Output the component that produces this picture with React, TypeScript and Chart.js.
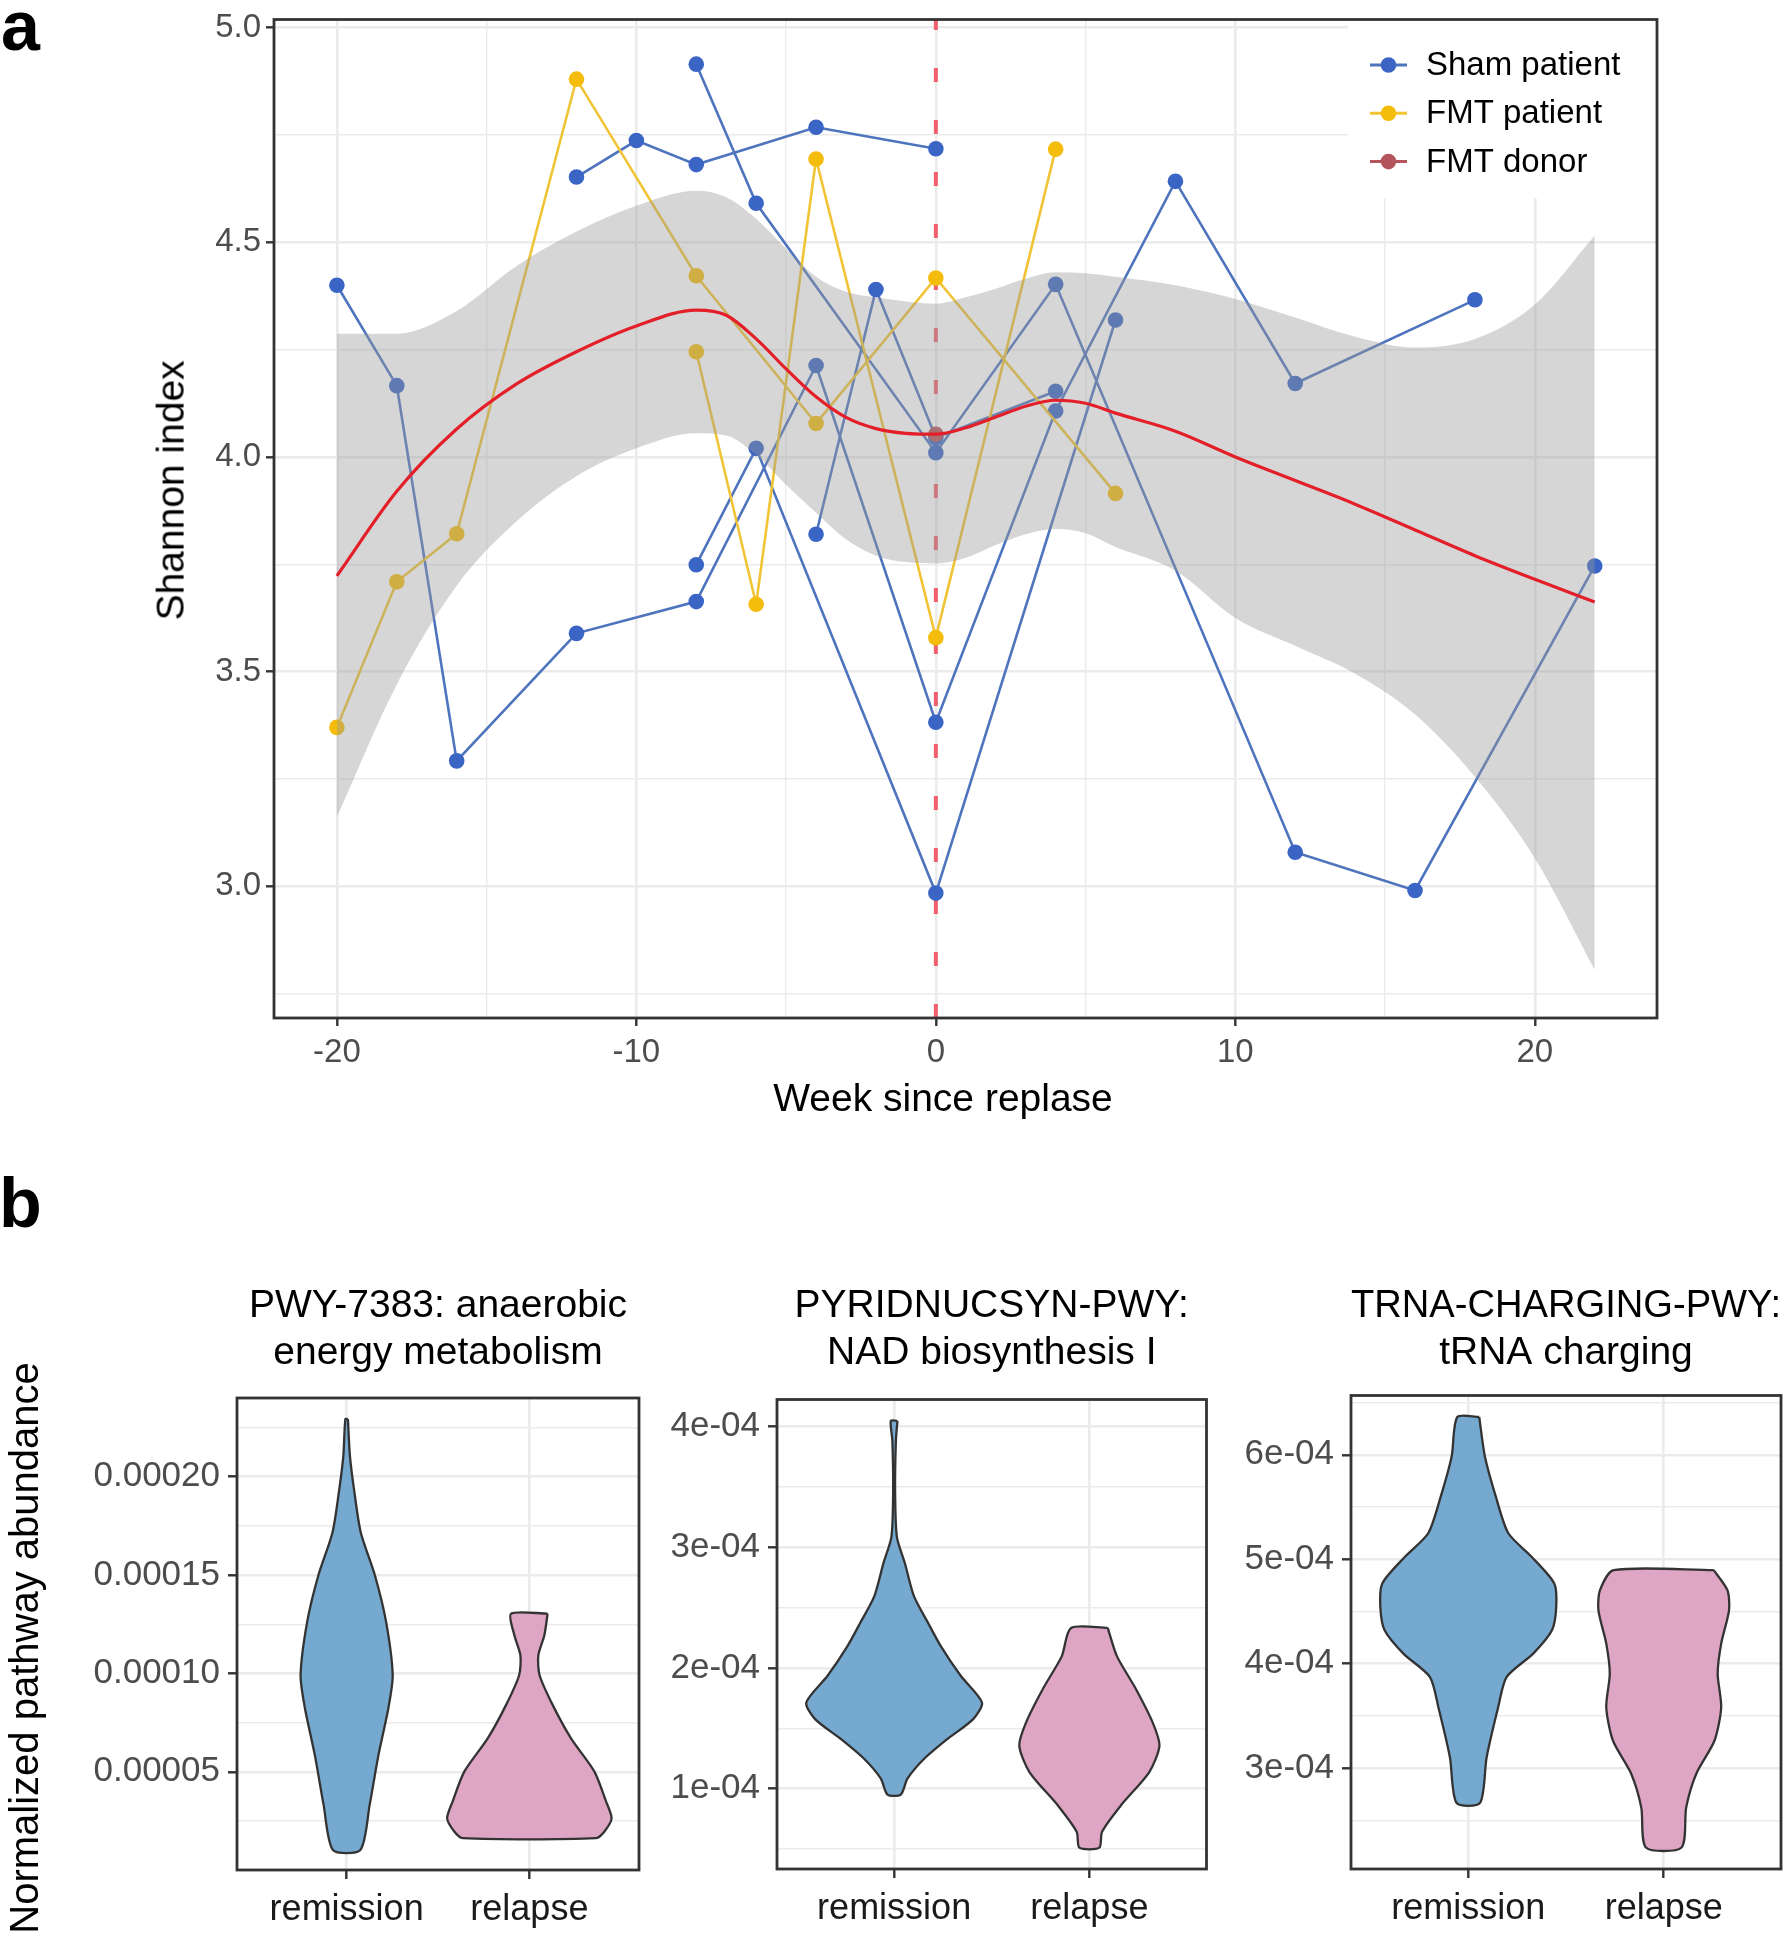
import React, { useEffect, useRef } from 'react';
import { Chart, registerables } from 'chart.js';

Chart.register(...registerables);

const FONT = "'Liberation Sans', Arial, Helvetica, sans-serif";
Chart.defaults.font.family = FONT;

// ---------------- Panel a : Shannon index over time ----------------
const A_X_MAJOR = [-20, -10, 0, 10, 20];
const A_X_MINOR = [-15, -5, 5, 15];
const A_Y_MAJOR = [3.0, 3.5, 4.0, 4.5, 5.0];
const A_Y_MINOR = [2.75, 3.25, 3.75, 4.25, 4.75];
const A_X_RANGE = [-22.1, 24.08];
const A_Y_RANGE = [2.693, 5.019];
const RELAPSE_WEEK = 0;
const A_X_TITLE = 'Week since replase';
const A_Y_TITLE = 'Shannon index';

const SHAM_1_WEEK = [-20, -18, -16, -12, -8, -4, 0, 4, 8, 12, 18];
const SHAM_1_SHANNON = [4.40, 4.166, 3.292, 3.589, 3.663, 4.213, 3.382, 4.107, 4.642, 4.171, 4.366];
const SHAM_2_WEEK = [-8, -6, 0, 4, 12, 16, 22];
const SHAM_2_SHANNON = [4.915, 4.591, 4.010, 4.402, 3.079, 2.990, 3.746];
const SHAM_3_WEEK = [-12, -10, -8, -4, 0];
const SHAM_3_SHANNON = [4.652, 4.737, 4.681, 4.768, 4.718];
const SHAM_4_WEEK = [-8, -6, 0, 6];
const SHAM_4_SHANNON = [3.749, 4.020, 2.984, 4.319];
const SHAM_5_WEEK = [-4, -2, 0, 4];
const SHAM_5_SHANNON = [3.820, 4.390, 4.045, 4.153];

const FMT_1_WEEK = [-20, -18, -16, -12, -8, -4, 0, 6];
const FMT_1_SHANNON = [3.370, 3.709, 3.821, 4.880, 4.422, 4.078, 4.417, 3.915];
const FMT_2_WEEK = [-8, -6, -4, 0, 4];
const FMT_2_SHANNON = [4.245, 3.657, 4.694, 3.579, 4.717];

const DONOR_WEEK = [0];
const DONOR_SHANNON = [4.053];

const SMOOTH_WEEK = [-20, -18, -16, -14, -12, -10, -8, -7, -6, -5, -4, -3, -2, -1, 0, 1, 2, 3, 4, 5, 6, 8, 10, 12, 14, 16, 18, 20, 22];
const SMOOTH_FIT = [3.723, 3.92, 4.065, 4.17, 4.245, 4.305, 4.342, 4.33, 4.275, 4.205, 4.140, 4.092, 4.066, 4.055, 4.053, 4.068, 4.093, 4.118, 4.132, 4.125, 4.102, 4.060, 4.000, 3.945, 3.890, 3.830, 3.770, 3.715, 3.662];
const SMOOTH_UPPER = [4.287, 4.287, 4.34, 4.445, 4.525, 4.585, 4.620, 4.605, 4.555, 4.485, 4.420, 4.385, 4.372, 4.362, 4.357, 4.372, 4.392, 4.415, 4.430, 4.428, 4.420, 4.400, 4.368, 4.325, 4.280, 4.255, 4.275, 4.355, 4.516];
const SMOOTH_LOWER = [3.161, 3.47, 3.70, 3.85, 3.955, 4.020, 4.055, 4.050, 4.005, 3.935, 3.870, 3.808, 3.770, 3.755, 3.752, 3.765, 3.795, 3.820, 3.832, 3.822, 3.790, 3.735, 3.625, 3.560, 3.495, 3.400, 3.255, 3.065, 2.805];

const LEGEND_LABELS = ['Sham patient', 'FMT patient', 'FMT donor'];

const SHAM_LINE = '#4F74BE';
const SHAM_POINT = '#3A65C5';
const FMT_LINE = '#F1C435';
const FMT_POINT = '#F4BC0B';
const DONOR_COLOR = '#B4545B';
const LEGEND_COLORS = [[SHAM_LINE, SHAM_POINT], [FMT_LINE, FMT_POINT], [DONOR_COLOR, DONOR_COLOR]];
const POINT_RADIUS = 7.8;

// ---------------- Panel b : violins (values in units of 1e-5) ----------------
const ABUNDANCE_UNIT = 1e-5;
const B_Y_TITLE = 'Normalized pathway abundance';
const GROUPS = ['remission', 'relapse'];
const GROUP_COLORS = ['#75A9CF', '#DEA6C4'];

const V1_TITLE = ['PWY-7383: anaerobic', 'energy metabolism'];
const V1_REM_LEVEL = [22.93, 21.06, 19.38, 17.18, 14.98, 12.62, 9.91, 8.22, 5.85, 3.32, 1.03];
const V1_REM_HALFWIDTH = [0.007, 0.018, 0.040, 0.077, 0.155, 0.216, 0.252, 0.228, 0.174, 0.126, 0.075];
const V1_REL_LEVEL = [13.04, 11.94, 10.92, 9.91, 8.39, 6.70, 5.01, 3.49, 2.64, 1.97, 1.63];
const V1_REL_HALFWIDTH = [0.100, 0.082, 0.049, 0.056, 0.128, 0.228, 0.356, 0.420, 0.450, 0.411, 0.365];
const V1_Y_MAJOR = [5e-5, 10e-5, 15e-5, 20e-5];
const V1_Y_MINOR = [2.5e-5, 7.5e-5, 12.5e-5, 17.5e-5, 22.5e-5];
const V1_Y_RANGE = [0.01e-5, 24.0e-5];

const V2_TITLE = ['PYRIDNUCSYN-PWY:', 'NAD biosynthesis I'];
const V2_REM_LEVEL = [40.49, 38.85, 34.7, 30.87, 28.68, 25.93, 23.73, 21.81, 19.33, 17.14, 15.76, 14.11, 12.47, 10.82, 9.50];
const V2_REM_HALFWIDTH = [0.017, 0.009, 0.005, 0.014, 0.055, 0.102, 0.174, 0.239, 0.342, 0.450, 0.405, 0.273, 0.154, 0.068, 0.034];
const V2_REL_LEVEL = [23.32, 20.98, 18.24, 15.49, 13.56, 11.37, 8.61, 6.42, 5.10];
const V2_REL_HALFWIDTH = [0.094, 0.141, 0.239, 0.324, 0.359, 0.307, 0.162, 0.065, 0.051];
const V2_Y_MAJOR = [1e-4, 2e-4, 3e-4, 4e-4];
const V2_Y_MINOR = [0.5e-4, 1.5e-4, 2.5e-4, 3.5e-4];
const V2_Y_RANGE = [3.33e-5, 42.26e-5];

const V3_TITLE = ['TRNA-CHARGING-PWY:', 'tRNA charging'];
const V3_REM_LEVEL = [63.62, 59.84, 56.0, 52.49, 50.24, 47.69, 45.44, 43.2, 40.97, 38.73, 35.84, 31.05, 26.67];
const V3_REM_HALFWIDTH = [0.056, 0.085, 0.141, 0.205, 0.324, 0.440, 0.450, 0.428, 0.332, 0.196, 0.153, 0.094, 0.060];
const V3_REL_LEVEL = [48.96, 47.04, 45.12, 41.93, 39.05, 35.84, 32.65, 29.45, 26.25, 22.41];
const V3_REL_HALFWIDTH = [0.256, 0.326, 0.334, 0.294, 0.276, 0.294, 0.260, 0.166, 0.115, 0.091];
const V3_Y_MAJOR = [3e-4, 4e-4, 5e-4, 6e-4];
const V3_Y_MINOR = [2.5e-4, 3.5e-4, 4.5e-4, 5.5e-4, 6.5e-4];
const V3_Y_RANGE = [20.35e-5, 65.68e-5];

// ---------------- helpers ----------------
const GRID = '#EBEBEB';
const isIn = (v: number, arr: number[]) => arr.some((m) => Math.abs(m - v) <= Math.abs(m) * 1e-6 + 1e-12);

const boxPlugin = {
  id: 'panelBox',
  afterDraw(chart: any) {
    const { ctx, chartArea: a } = chart;
    ctx.save();
    ctx.strokeStyle = '#333333';
    ctx.lineWidth = 2.8;
    ctx.strokeRect(a.left, a.top, a.right - a.left, a.bottom - a.top);
    ctx.restore();
  },
};

const legendPlugin = {
  id: 'insideLegend',
  afterDatasetsDraw(chart: any) {
    const { ctx, chartArea: a } = chart;
    const left = a.right - 309;
    ctx.save();
    ctx.fillStyle = '#ffffff';
    ctx.fillRect(left, a.top, a.right - left, 198 - a.top);
    LEGEND_LABELS.forEach((label, i) => {
      const y = a.top + 45.5 + i * 48.3;
      const [lc, pc] = LEGEND_COLORS[i];
      ctx.strokeStyle = lc;
      ctx.lineWidth = 3;
      ctx.beginPath();
      ctx.moveTo(left + 22, y);
      ctx.lineTo(left + 59, y);
      ctx.stroke();
      ctx.fillStyle = pc;
      ctx.beginPath();
      ctx.arc(left + 40.5, y, POINT_RADIUS, 0, Math.PI * 2);
      ctx.fill();
      ctx.fillStyle = '#000000';
      ctx.font = `33px ${FONT}`;
      ctx.textBaseline = 'middle';
      ctx.textAlign = 'left';
      ctx.fillText(label, left + 78, y + 1);
    });
    ctx.restore();
  },
};

function patient(weeks: number[], vals: number[], line: string, point: string, order: number) {
  return {
    type: 'line',
    data: weeks.map((w, i) => ({ x: w, y: vals[i] })),
    borderColor: line,
    borderWidth: 2.6,
    pointRadius: POINT_RADIUS,
    pointBackgroundColor: point,
    pointBorderWidth: 0,
    fill: false,
    tension: 0,
    order,
  };
}

function series(weeks: number[], vals: number[]) {
  return weeks.map((w, i) => ({ x: w, y: vals[i] }));
}

function violin(center: number, levels: number[], halfWidths: number[], color: string) {
  const right = levels.map((l, i) => ({ x: center + halfWidths[i], y: l * ABUNDANCE_UNIT }));
  const left = levels.map((l, i) => ({ x: center - halfWidths[i], y: l * ABUNDANCE_UNIT })).reverse();
  return {
    type: 'line',
    data: [...right, ...left, right[0]],
    borderColor: '#333333',
    borderWidth: 2.3,
    backgroundColor: color,
    fill: 'shape',
    pointRadius: 0,
    tension: 0.25,
    borderJoinStyle: 'round',
  };
}

function gridFor(majors: number[]) {
  return {
    color: GRID,
    lineWidth: (c: any) => (c.tick && isIn(c.tick.value, majors) ? 2.6 : 1.4),
    tickColor: (c: any) => (c.tick && isIn(c.tick.value, majors) ? '#333333' : 'rgba(0,0,0,0)'),
    tickWidth: 2.4,
  };
}

function makePanelA(canvas: HTMLCanvasElement) {
  const xTicks = [...A_X_MAJOR, ...A_X_MINOR].sort((p, q) => p - q);
  const yTicks = [...A_Y_MAJOR, ...A_Y_MINOR].sort((p, q) => p - q);
  return new Chart(canvas, {
    type: 'line',
    data: {
      datasets: [
        {
          data: series(SMOOTH_WEEK, SMOOTH_FIT),
          borderColor: '#E3202A',
          borderWidth: 3.2,
          pointRadius: 0,
          fill: false,
          cubicInterpolationMode: 'monotone',
          order: 1,
        },
        {
          data: series(SMOOTH_WEEK, SMOOTH_UPPER),
          borderWidth: 0,
          borderColor: 'rgba(0,0,0,0)',
          backgroundColor: 'rgba(153,153,153,0.4)',
          fill: '+1',
          pointRadius: 0,
          cubicInterpolationMode: 'monotone',
          order: 2,
        },
        {
          data: series(SMOOTH_WEEK, SMOOTH_LOWER),
          borderWidth: 0,
          borderColor: 'rgba(0,0,0,0)',
          fill: false,
          pointRadius: 0,
          cubicInterpolationMode: 'monotone',
          order: 3,
        },
        {
          data: series(DONOR_WEEK, DONOR_SHANNON),
          showLine: false,
          pointRadius: POINT_RADIUS,
          pointBackgroundColor: DONOR_COLOR,
          pointBorderWidth: 0,
          order: 4,
        },
        patient(FMT_1_WEEK, FMT_1_SHANNON, FMT_LINE, FMT_POINT, 5),
        patient(FMT_2_WEEK, FMT_2_SHANNON, FMT_LINE, FMT_POINT, 5),
        patient(SHAM_1_WEEK, SHAM_1_SHANNON, SHAM_LINE, SHAM_POINT, 6),
        patient(SHAM_2_WEEK, SHAM_2_SHANNON, SHAM_LINE, SHAM_POINT, 6),
        patient(SHAM_3_WEEK, SHAM_3_SHANNON, SHAM_LINE, SHAM_POINT, 6),
        patient(SHAM_4_WEEK, SHAM_4_SHANNON, SHAM_LINE, SHAM_POINT, 6),
        patient(SHAM_5_WEEK, SHAM_5_SHANNON, SHAM_LINE, SHAM_POINT, 6),
        {
          data: [
            { x: RELAPSE_WEEK, y: A_Y_RANGE[0] },
            { x: RELAPSE_WEEK, y: A_Y_RANGE[1] },
          ],
          borderColor: 'rgba(240,72,86,0.85)',
          borderWidth: 4,
          borderDash: [14, 38],
          pointRadius: 0,
          fill: false,
          order: 10,
        },
      ] as any,
    },
    options: {
      responsive: false,
      animation: false,
      events: [],
      layout: { padding: { left: 143, right: 129, top: 19.5, bottom: 25.1 }, autoPadding: false },
      plugins: { legend: { display: false }, tooltip: { enabled: false }, title: { display: false } },
      scales: {
        x: {
          type: 'linear',
          position: 'bottom',
          min: A_X_RANGE[0],
          max: A_X_RANGE[1],
          afterBuildTicks: (s: any) => {
            s.ticks = xTicks.map((v) => ({ value: v }));
          },
          afterFit: (s: any) => {
            s.height = 106.9;
          },
          grid: { ...gridFor(A_X_MAJOR), tickLength: 8 },
          border: { display: false },
          ticks: {
            autoSkip: false,
            maxRotation: 0,
            minRotation: 0,
            padding: 7,
            color: '#4D4D4D',
            font: { size: 33 },
            callback: (v: any) => (isIn(Number(v), A_X_MAJOR) ? String(v) : ''),
          },
          title: { display: false },
        },
        y: {
          type: 'linear',
          min: A_Y_RANGE[0],
          max: A_Y_RANGE[1],
          afterBuildTicks: (s: any) => {
            s.ticks = yTicks.map((v) => ({ value: v }));
          },
          afterFit: (s: any) => {
            s.width = 131;
          },
          grid: { ...gridFor(A_Y_MAJOR), tickLength: 8 },
          border: { display: false },
          ticks: {
            autoSkip: false,
            padding: 5,
            color: '#4D4D4D',
            font: { size: 33, lineHeight: 0.8 },
            callback: (v: any) => (isIn(Number(v), A_Y_MAJOR) ? Number(v).toFixed(1) : ''),
          },
          title: { display: false },
        },
      },
    } as any,
    plugins: [legendPlugin, boxPlugin],
  });
}

interface ViolinPanel {
  width: number;
  height: number;
  area: { left: number; right: number; top: number; bottom: number };
  title: string[];
  yRange: number[];
  yMajor: number[];
  yMinor: number[];
  format: (v: number) => string;
  violins: { level: number[]; half: number[] }[];
}

function makeViolinPanel(canvas: HTMLCanvasElement, p: ViolinPanel) {
  const yTicks = [...p.yMajor, ...p.yMinor].sort((a, b) => a - b);
  const xTicks = GROUPS.map((_, i) => i + 1);
  return new Chart(canvas, {
    type: 'line',
    data: {
      datasets: p.violins.map((v, i) => violin(i + 1, v.level, v.half, GROUP_COLORS[i])) as any,
    },
    options: {
      responsive: false,
      animation: false,
      events: [],
      layout: { padding: { left: 0, right: p.width - p.area.right, top: 0, bottom: 0 }, autoPadding: false },
      plugins: {
        legend: { display: false },
        tooltip: { enabled: false },
        title: {
          display: true,
          text: p.title,
          fullSize: false,
          color: '#000000',
          font: { size: 39, weight: 'normal', lineHeight: 1.2 },
          padding: { top: 33, bottom: p.area.top - 33 - 93.6 },
        },
      },
      scales: {
        x: {
          type: 'linear',
          min: 0.4,
          max: 2.6,
          afterBuildTicks: (s: any) => {
            s.ticks = xTicks.map((v) => ({ value: v }));
          },
          afterFit: (s: any) => {
            s.height = p.height - p.area.bottom;
          },
          grid: { color: GRID, lineWidth: 2.6, tickColor: '#333333', tickWidth: 2.4, tickLength: 9 },
          border: { display: false },
          ticks: {
            autoSkip: false,
            maxRotation: 0,
            minRotation: 0,
            padding: 9,
            color: '#1A1A1A',
            font: { size: 36 },
            callback: (v: any) => GROUPS[Math.round(Number(v)) - 1] ?? '',
          },
        },
        y: {
          type: 'linear',
          min: p.yRange[0],
          max: p.yRange[1],
          afterBuildTicks: (s: any) => {
            s.ticks = yTicks.map((v) => ({ value: v }));
          },
          afterFit: (s: any) => {
            s.width = p.area.left;
          },
          grid: { ...gridFor(p.yMajor), tickLength: 9 },
          border: { display: false },
          ticks: {
            autoSkip: false,
            padding: 8,
            color: '#4D4D4D',
            font: { size: 35, lineHeight: 0.8 },
            callback: (v: any) => (isIn(Number(v), p.yMajor) ? p.format(Number(v)) : ''),
          },
        },
      },
    } as any,
    plugins: [boxPlugin],
  });
}

const sci = (v: number) => `${Math.round(v * 1e4)}e-04`;

const PANEL_B1: ViolinPanel = {
  width: 660,
  height: 686,
  area: { left: 237, right: 639, top: 148, bottom: 620 },
  title: V1_TITLE,
  yRange: V1_Y_RANGE,
  yMajor: V1_Y_MAJOR,
  yMinor: V1_Y_MINOR,
  format: (v) => v.toFixed(5),
  violins: [
    { level: V1_REM_LEVEL, half: V1_REM_HALFWIDTH },
    { level: V1_REL_LEVEL, half: V1_REL_HALFWIDTH },
  ],
};
const PANEL_B2: ViolinPanel = {
  width: 590,
  height: 686,
  area: { left: 127, right: 556.5, top: 149.5, bottom: 619 },
  title: V2_TITLE,
  yRange: V2_Y_RANGE,
  yMajor: V2_Y_MAJOR,
  yMinor: V2_Y_MINOR,
  format: sci,
  violins: [
    { level: V2_REM_LEVEL, half: V2_REM_HALFWIDTH },
    { level: V2_REL_LEVEL, half: V2_REL_HALFWIDTH },
  ],
};
const PANEL_B3: ViolinPanel = {
  width: 566,
  height: 686,
  area: { left: 131, right: 561, top: 145.5, bottom: 619 },
  title: V3_TITLE,
  yRange: V3_Y_RANGE,
  yMajor: V3_Y_MAJOR,
  yMinor: V3_Y_MINOR,
  format: sci,
  violins: [
    { level: V3_REM_LEVEL, half: V3_REM_HALFWIDTH },
    { level: V3_REL_LEVEL, half: V3_REL_HALFWIDTH },
  ],
};

export default function App() {
  const aRef = useRef<HTMLCanvasElement>(null);
  const b1Ref = useRef<HTMLCanvasElement>(null);
  const b2Ref = useRef<HTMLCanvasElement>(null);
  const b3Ref = useRef<HTMLCanvasElement>(null);

  useEffect(() => {
    const charts: Chart[] = [];
    if (aRef.current) charts.push(makePanelA(aRef.current));
    if (b1Ref.current) charts.push(makeViolinPanel(b1Ref.current, PANEL_B1));
    if (b2Ref.current) charts.push(makeViolinPanel(b2Ref.current, PANEL_B2));
    if (b3Ref.current) charts.push(makeViolinPanel(b3Ref.current, PANEL_B3));
    return () => charts.forEach((c) => c.destroy());
  }, []);

  const abs = (left: number, top: number, w: number, h: number): React.CSSProperties => ({
    position: 'absolute',
    left,
    top,
    width: w,
    height: h,
  });

  const rotated = (cx: number, cy: number, len: number, size: number): React.CSSProperties => ({
    position: 'absolute',
    left: cx - len / 2,
    top: cy - (size * 1.2) / 2,
    width: len,
    height: size * 1.2,
    lineHeight: `${size * 1.2}px`,
    fontSize: size,
    textAlign: 'center',
    color: '#000',
    whiteSpace: 'nowrap',
    transform: 'rotate(-90deg)',
    transformOrigin: '50% 50%',
  });

  return (
    <div
      style={{
        position: 'absolute',
        left: 0,
        top: 0,
        width: 1786,
        height: 1936,
        background: '#ffffff',
        overflow: 'hidden',
        fontFamily: FONT,
      }}
    >
      <canvas ref={aRef} width={1786} height={1150} style={abs(0, 0, 1786, 1150)} />
      <canvas ref={b1Ref} width={PANEL_B1.width} height={PANEL_B1.height} style={abs(0, 1250, PANEL_B1.width, PANEL_B1.height)} />
      <canvas ref={b2Ref} width={PANEL_B2.width} height={PANEL_B2.height} style={abs(650, 1250, PANEL_B2.width, PANEL_B2.height)} />
      <canvas ref={b3Ref} width={PANEL_B3.width} height={PANEL_B3.height} style={abs(1220, 1250, PANEL_B3.width, PANEL_B3.height)} />
      <div style={{ position: 'absolute', left: 1, top: -9.2, fontSize: 70, lineHeight: '70px', fontWeight: 'bold', color: '#000' }}>a</div>
      <div style={{ position: 'absolute', left: -1, top: 1167.8, fontSize: 70, lineHeight: '70px', fontWeight: 'bold', color: '#000' }}>b</div>
      <div
        style={{
          position: 'absolute',
          left: 943 - 300,
          top: 1074,
          width: 600,
          height: 47,
          lineHeight: '47px',
          fontSize: 39,
          textAlign: 'center',
          color: '#000',
          whiteSpace: 'nowrap',
        }}
      >
        {A_X_TITLE}
      </div>
      <div style={rotated(170.5, 490.5, 400, 39)}>{A_Y_TITLE}</div>
      <div style={rotated(24, 1648, 700, 40)}>{B_Y_TITLE}</div>
    </div>
  );
}
